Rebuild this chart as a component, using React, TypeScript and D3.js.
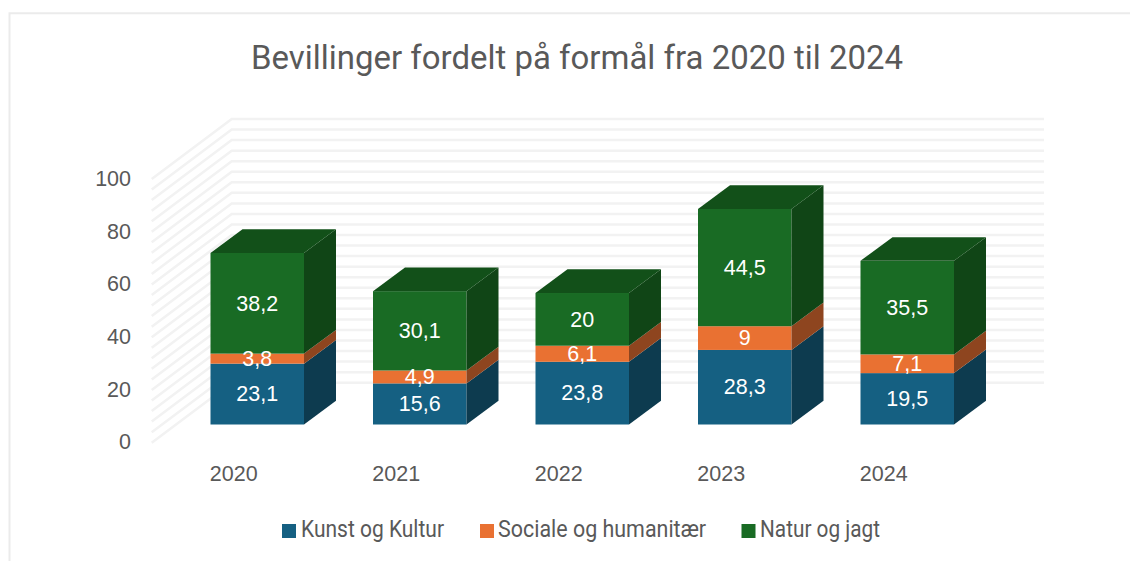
import React from "react";
import * as d3 from "d3";

const width = 1130;
const height = 561;

const years = ["2020", "2021", "2022", "2023", "2024"];
const seriesNames = ["Kunst og Kultur", "Sociale og humanitær", "Natur og jagt"];
const kunst = [23.1, 15.6, 23.8, 28.3, 19.5];
const sociale = [3.8, 4.9, 6.1, 9, 7.1];
const natur = [38.2, 30.1, 20, 44.5, 35.5];
const axisTicks = [0, 20, 40, 60, 80, 100];
const gridTicks = d3.range(0, 101, 4);

const colors = ["#156082", "#E97132", "#196B24"];
const sideColors = ["#0D3B4F", "#8E451F", "#104516"];
const topColor = "#125019";

// 3d offset between the front of a bar and its back
const depthX = 32;
const depthY = -23.7;

const x = d3.scaleBand<string>().domain(years).range([152.5, 965]).paddingInner(0.4246).paddingOuter(0.2123);
const yBar = d3.scaleLinear().domain([0, 100]).range([424.5, 161]);
const yWall = d3.scaleLinear().domain([0, 100]).range([382.7, 119]);
const yAxisLabel = d3.scaleLinear().domain([0, 100]).range([441.5, 178.5]);

const stacked = d3.stack<any>().keys(["0", "1", "2"])(
  years.map((_, i) => [kunst[i], sociale[i], natur[i]])
);

const fmt = (v: number) => String(v).replace(".", ",");
const barOffset = 23.5;

export default function App() {
  const bw = x.bandwidth();
  return (
    <svg width={width} height={height} style={{ position: "absolute", left: 0, top: 0, background: "#fff" }}>
      <path d="M9.5 561V13.3H1130" fill="none" stroke="#EBEBEB" strokeWidth={2} />
      <text x={577} y={68.5} textAnchor="middle" fontFamily="Roboto" fontSize={33.5} fill="#595959"
        textLength={652} lengthAdjust="spacingAndGlyphs">
        Bevillinger fordelt på formål fra 2020 til 2024
      </text>

      {gridTicks.map((t) => (
        <path
          key={t}
          d={`M151.7 ${yWall(t) + 60}L231.7 ${yWall(t)}H1044`}
          fill="none"
          stroke="#F2F2F2"
          strokeWidth={2.5}
        />
      ))}

      {axisTicks.map((t) => (
        <text key={t} x={131} y={yAxisLabel(t)} dy="0.36em" textAnchor="end"
          fontFamily="Liberation Sans" fontSize={21.5} fill="#595959">
          {t}
        </text>
      ))}
      {years.map((yr) => (
        <text key={yr} x={x(yr)! + bw / 2} y={473} dy="0.36em" textAnchor="middle"
          fontFamily="Liberation Sans" fontSize={21.5} fill="#595959">
          {yr}
        </text>
      ))}

      {stacked.map((s, si) => (
        <g key={si}>
          {s.map((d, i) => {
            const x0 = x(years[i])! + barOffset;
            const y0 = yBar(d[1]);
            const y1 = yBar(d[0]);
            return (
              <g key={years[i]}>
                <rect x={x0} y={y0} width={bw} height={y1 - y0} fill={colors[si]} />
                <path
                  d={`M${x0 + bw} ${y0}l${depthX} ${depthY}V${y1 + depthY}l${-depthX} ${-depthY}Z`}
                  fill={sideColors[si]}
                />
                {si === 2 && (
                  <path
                    d={`M${x0} ${y0}l${depthX} ${depthY}h${bw}l${-depthX} ${-depthY}Z`}
                    fill={topColor}
                  />
                )}
              </g>
            );
          })}
        </g>
      ))}

      {stacked.map((s, si) =>
        s.map((d, i) => (
          <text
            key={si + years[i]}
            x={x(years[i])! + barOffset + bw / 2}
            y={yBar((d[0] + d[1]) / 2) - 0.5}
            dy="0.36em"
            textAnchor="middle"
            fontFamily="Liberation Sans"
            fontSize={21.5}
            fill="#fff"
          >
            {fmt(+(d[1] - d[0]).toFixed(1))}
          </text>
        ))
      )}

      {seriesNames.map((name, i) => {
        const lx = [282, 480, 741.5][i];
        const tw = [143, 208, 120][i];
        return (
          <g key={name}>
            <rect x={lx} y={524} width={14} height={14} fill={colors[i]} />
            <text x={[301, 498, 760][i]} y={537} fontFamily="Roboto" fontSize={23} fill="#595959"
              textLength={tw} lengthAdjust="spacingAndGlyphs">
              {name}
            </text>
          </g>
        );
      })}
    </svg>
  );
}
